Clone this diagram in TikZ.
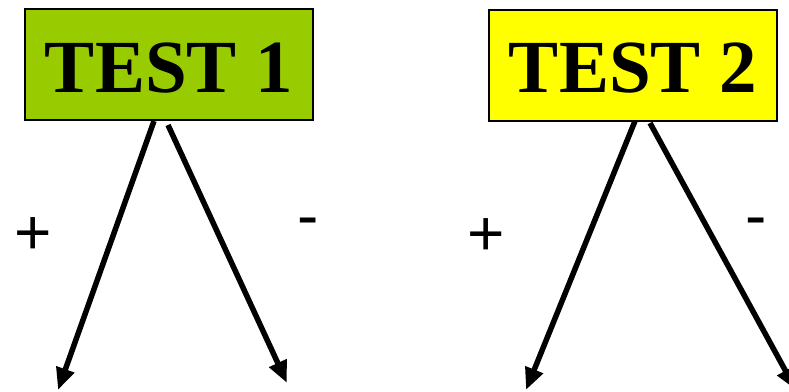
\documentclass[tikz,border=0pt]{standalone}
\usepackage{fontspec}
\setmainfont{Liberation Serif}
\newfontfamily\signfont{Liberation Sans}
\usetikzlibrary{arrows.meta}
\definecolor{boxgreen}{HTML}{99CC00}
\definecolor{boxyellow}{HTML}{FFFF00}
\tikzset{
  testbox/.style={draw=black, line width=2pt, minimum width=288pt, minimum height=111pt,
    inner sep=0pt, text height=55pt, text depth=0pt,
    font=\fontsize{75}{82}\selectfont\bfseries, text=black},
  signlabel/.style={font=\signfont\fontsize{64}{70}\selectfont, inner sep=0pt, anchor=base},
  branch/.style={line width=5.5pt, -{Triangle[length=22pt,width=18pt]}}
}
\begin{document}
\begin{tikzpicture}[x=1pt,y=-1pt]
\useasboundingbox (0,0) rectangle (789,391);
\node[testbox, fill=boxgreen] (t1) at (169,64.5) {TEST 1};
\node[testbox, fill=boxyellow] (t2) at (633,65) {TEST 2};
\coordinate (s1l) at (154,121);
\coordinate (s1r) at (168,125);
\coordinate (s2l) at (635,121);
\coordinate (s2r) at (650,123);
\coordinate (e1l) at (58,390);
\coordinate (e1r) at (287,383);
\coordinate (e2l) at (526,390);
\coordinate (e2r) at (796,390);
\draw[branch] (s1l) -- (e1l);
\draw[branch] (s1r) -- (e1r);
\draw[branch] (s2l) -- (e2l);
\draw[branch] (s2r) -- (e2r);
\node[signlabel] (p1) at (33,254) {+};
\node[signlabel] (m1) at (308,237) {-};
\node[signlabel] (p2) at (486,255) {+};
\node[signlabel] (m2) at (756,237) {-};
\end{tikzpicture}
\end{document}
